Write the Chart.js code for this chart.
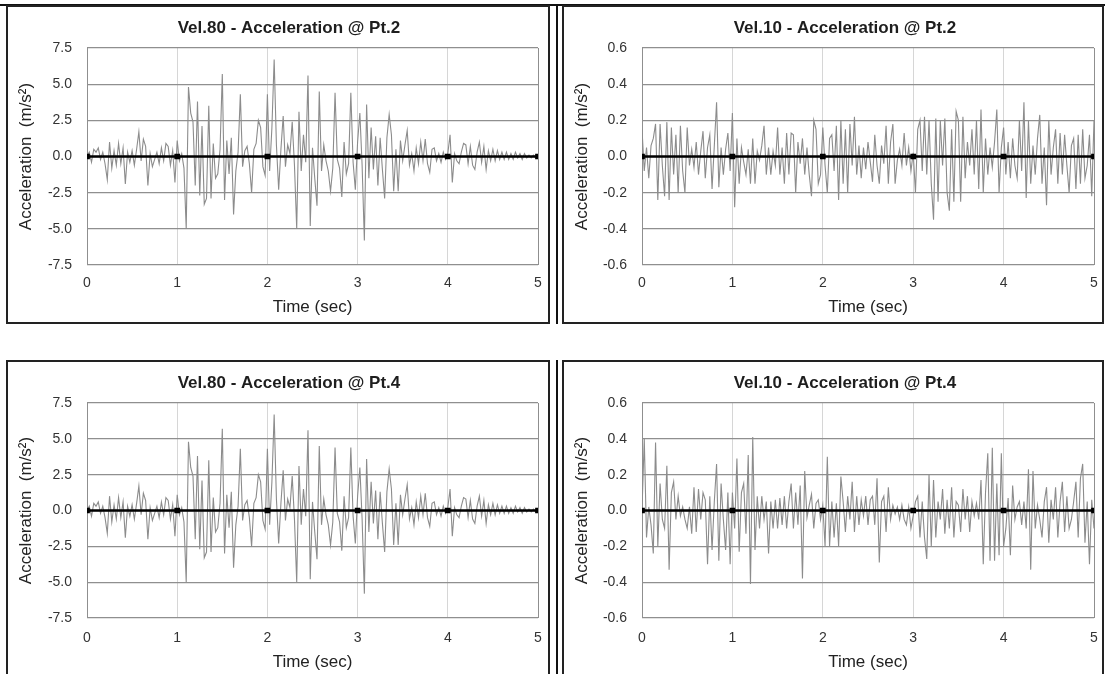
<!DOCTYPE html>
<html>
<head>
<meta charset="utf-8">
<title>Acceleration records</title>
<script src="https://cdn.jsdelivr.net/npm/chart.js@4.4.0/dist/chart.umd.min.js"></script>
<style>
  html, body { margin: 0; padding: 0; background: #fff; overflow: hidden; }
  body { width: 1105px; height: 674px; position: relative; }
  .rule { position: absolute; background: #111; }
  .panel { position: absolute; box-sizing: border-box; border: 2px solid #222; background: #fff; overflow: hidden; }
  .panel canvas { position: absolute; left: 0; top: 0; }
</style>
</head>
<body>

<div class="rule" style="left:0;top:4px;width:1105px;height:2px"></div>
<div class="rule" style="left:556px;top:4px;width:2px;height:320px"></div>
<div class="rule" style="left:556px;top:360px;width:2px;height:320px"></div>

<div class="panel" style="left:6px;top:5px;width:544px;height:319px"><canvas id="v80p2" width="540" height="315"></canvas></div>
<div class="panel" style="left:562px;top:5px;width:542px;height:319px"><canvas id="v10p2" width="538" height="315"></canvas></div>
<div class="panel" style="left:6px;top:360px;width:544px;height:330px"><canvas id="v80p4" width="540" height="315"></canvas></div>
<div class="panel" style="left:562px;top:360px;width:542px;height:330px"><canvas id="v10p4" width="538" height="315"></canvas></div>

<script>
// ─── Data ────────────────────────────────────────────────────
const sampleStep = 0.025;          // sec between samples, 0..5 s
const markerTimes = [0, 1, 2, 3, 4, 5];
const timeTicks = [0, 1, 2, 3, 4, 5];
const ticksV80 = [-7.5, -5.0, -2.5, 0.0, 2.5, 5.0, 7.5];
const ticksV10 = [-0.6, -0.4, -0.2, 0.0, 0.2, 0.4, 0.6];

// m/s², Vel.80 at Pt.2
const accelV80Pt2 = [
   0.0,  0.3, -0.4,  0.5,  0.3,  0.6, -0.2,  0.3, -0.5, -1.6,
   1.0, -0.8,  0.4, -0.6,  0.9, -0.5,  0.6, -1.9,  0.3, -0.4,
   0.4, -0.6,  0.5,  1.7, -0.3,  1.2,  0.7, -2.0,  0.2, -0.7,
  -0.2,  0.3, -0.5,  0.6, -0.3,  0.9,  0.7, -0.6,  0.4, -1.8,
   1.1, -0.3,  0.2, -0.8, -5.0,  4.8,  3.0,  2.4, -2.0,  3.8,
  -2.7,  2.1, -3.3, -2.9,  3.5, -2.9,  0.9, -1.5, -1.2,  0.5,
   5.7, -3.0,  1.1, -1.2,  1.3, -4.0, -1.0,  0.3,  4.3, -0.7,
   0.4,  0.7, -0.5, -2.5,  0.5,  0.9,  2.5,  2.0, -0.7, -1.3,
   4.3, -1.0,  2.0,  6.7,  0.8, -2.3,  0.5,  2.8, -0.7,  0.8,
   0.2,  2.4, -0.6, -5.0,  3.1, -1.0,  1.5, -0.4,  5.6, -4.8,
   0.6, -1.5, -3.4,  4.5, -1.0,  0.8, -0.3, -1.0, -2.4, -0.8,
   4.4, -0.2, -0.8, -2.8,  1.0, -1.2, -0.5,  4.4, -0.4, -2.3,
   1.0,  3.0, -0.6, -5.8,  3.6, -1.5,  2.0, -0.9,  1.4, -2.0,
   1.3, -0.9, -2.9,  1.3,  2.9,  1.5, -2.4,  0.5, -2.4,  1.1,
  -0.3,  0.8,  1.8, -0.6,  0.2, -1.0,  0.6, -0.5,  1.0, -0.3,
   1.2, -0.5, -1.1,  0.5,  0.6, -0.3,  0.2, -0.4,  0.3, -0.2,
   0.2,  1.5, -1.8,  0.2, -0.3, -0.5,  0.3,  0.9,  0.8, -0.5,
   0.7, -0.6, -0.9,  0.3,  1.0, -0.4,  0.7, -0.9,  0.4, -0.3,
   0.5, -0.3,  0.4, -0.2,  0.3, -0.2,  0.3, -0.2,  0.2, -0.2,
   0.3, -0.1,  0.2, -0.2,  0.2, -0.1,  0.1, -0.1,  0.1, -0.1,
   0.0
];

// m/s², Vel.80 at Pt.4 (same record as Pt.2)
const accelV80Pt4 = accelV80Pt2.slice();

// m/s², Vel.10 at Pt.2
const accelV10Pt2 = [
   0.15, -0.08,  0.05, -0.12,  0.06,  0.10,  0.18, -0.24,  0.18, -0.05,
  -0.22,  0.19, -0.24,  0.16, -0.10,  0.12, -0.20,  0.17, -0.08, -0.20,
   0.16, -0.05,  0.04, -0.06,  0.08, -0.10,  0.03,  0.14, -0.12,  0.05,
   0.12, -0.18,  0.06,  0.30, -0.17,  0.05, -0.10,  0.04,  0.13, -0.08,
   0.24, -0.28,  0.10, -0.15,  0.05, -0.03, -0.10,  0.04, -0.15,  0.10,
  -0.15,  0.03, -0.02,  0.06,  0.17, -0.10,  0.05, -0.10,  0.03, -0.05,
   0.16, -0.10,  0.05, -0.15,  0.13, -0.10,  0.13,  0.12, -0.20,  0.08,
  -0.04,  0.10, -0.10,  0.05, -0.10, -0.22,  0.20,  0.15, -0.15, -0.10,
   0.16, -0.05, -0.20,  0.10,  0.12, -0.08,  0.17, -0.24,  0.20, -0.15,
   0.15, -0.20,  0.18, -0.05,  0.22, -0.10,  0.06, -0.12,  0.05, -0.07,
   0.08, -0.03, -0.14,  0.12, -0.05, -0.15,  0.06, -0.04,  0.17, -0.15,
   0.08,  0.18, -0.15, -0.02,  0.04, -0.05,  0.13, -0.05,  0.05, -0.08,
   0.02, -0.20,  0.15,  0.20, -0.08,  0.22, -0.10,  0.20, -0.15, -0.35,
   0.21, -0.25,  0.20, -0.05,  0.21, -0.20, -0.30,  0.15, -0.25,  0.25,
   0.20, -0.25,  0.22, -0.12,  0.08, -0.05,  0.15, -0.10,  0.20, -0.18,
   0.26, -0.20,  0.10, -0.10,  0.05, -0.06,  0.08,  0.26, -0.20,  0.05,
   0.16, -0.10,  0.08, -0.12,  0.10, -0.05, -0.12,  0.20, -0.08,  0.30,
  -0.23,  0.20, -0.15,  0.06, -0.10,  0.10,  0.23, -0.15,  0.05, -0.27,
   0.20, -0.10,  0.05,  0.15, -0.15,  0.13, -0.10,  0.12, -0.05, -0.20,
   0.06,  0.10, -0.18,  0.12, -0.15,  0.15, -0.12, -0.05,  0.12, -0.22,
   0.20
];

// m/s², Vel.10 at Pt.4
const accelV10Pt4 = [
   0.00,  0.40, -0.15,  0.02, -0.08, -0.24,  0.38, -0.20,  0.15, -0.05,
  -0.10,  0.25, -0.33,  0.10,  0.16, -0.05,  0.08, -0.03,  0.02, -0.05,
  -0.10,  0.02, -0.13,  0.13, -0.12,  0.12, -0.05,  0.10,  0.06, -0.30,
   0.08, -0.22,  0.05,  0.26, -0.28,  0.15, -0.05, -0.22,  0.10, -0.30,
   0.10, -0.10,  0.29, -0.23,  0.10,  0.15, -0.13,  0.31, -0.41,  0.41,
  -0.22,  0.08, -0.10,  0.08, -0.05,  0.05, -0.24,  0.05, -0.10,  0.06,
  -0.10,  0.07, -0.08,  0.08, -0.10,  0.05,  0.15, -0.10,  0.10, -0.08,
   0.14, -0.38,  0.22, -0.04,  0.03,  0.09, -0.10,  0.04,  0.06, -0.05,
   0.03, -0.20,  0.30, -0.20,  0.05, -0.15,  0.04, -0.20,  0.19,  0.05,
  -0.12,  0.08, -0.05,  0.16, -0.12,  0.08, -0.08,  0.06, -0.03,  0.08,
  -0.08,  0.06,  0.08, -0.08,  0.18, -0.29,  0.05,  0.08, -0.12,  0.13,
  -0.05,  0.03, -0.02,  0.02, -0.05,  0.03, -0.05, -0.08,  0.02, -0.10,
  -0.03,  0.05,  0.08, -0.15,  0.05, -0.15, -0.27,  0.20, -0.20,  0.17,
  -0.15,  0.05, -0.05,  0.12, -0.13,  0.06, -0.10,  0.13, -0.15,  0.05,
   0.03, -0.12,  0.12, -0.05,  0.08, -0.12,  0.05, -0.03,  0.04, -0.05,
   0.17, -0.30,  0.10,  0.32, -0.28,  0.35, -0.28,  0.15, -0.25,  0.32,
  -0.20, -0.10,  0.07, -0.25,  0.14, -0.05,  0.02,  0.05, -0.08,  0.05,
  -0.10,  0.23, -0.33,  0.22, -0.10,  0.03, -0.05, -0.15,  0.05,  0.13,
  -0.18,  0.06, -0.05,  0.13, -0.15,  0.05,  0.16, -0.12,  0.08, -0.10,
  -0.05,  0.05,  0.16, -0.15,  0.18,  0.26, -0.18,  0.05, -0.30,  0.06,
  -0.10
];

// ─── Styles ──────────────────────────────────────────────────
const FONT = '"Liberation Sans", Arial, Helvetica, sans-serif';
const TRACE_COLOR = '#8c8c8c';
const HGRID = '#8f8f8f';
const VGRID = '#d6d6d6';

// Chart title drawn at a fixed centre, a bit right of the canvas middle
const panelTitle = {
  id: 'panelTitle',
  afterDraw(chart, args, opts) {
    const ctx = chart.ctx;
    ctx.save();
    ctx.font = `bold 17px ${FONT}`;
    ctx.fillStyle = '#1e1e1e';
    ctx.textAlign = 'center';
    ctx.textBaseline = 'middle';
    ctx.fillText(opts.text, opts.x, opts.y);
    ctx.restore();
  }
};

function toPoints(values) {
  return values.map((v, i) => ({ x: i * sampleStep, y: v }));
}

function renderAccelChart(canvasId, title, values, yTicks, layout) {
  const canvas = document.getElementById(canvasId);
  const yMin = yTicks[0];
  const yMax = yTicks[yTicks.length - 1];

  new Chart(canvas, {
    type: 'line',
    data: {
      datasets: [
        {
          // zero reference line with markers each second
          data: markerTimes.map(t => ({ x: t, y: 0 })),
          borderColor: '#000',
          backgroundColor: '#000',
          borderWidth: 2.6,
          pointStyle: 'rect',
          pointRadius: 2.2,
          pointHoverRadius: 2.2,
        },
        {
          data: toPoints(values),
          borderColor: TRACE_COLOR,
          borderWidth: 1.1,
          pointRadius: 0,
          tension: 0,
        }
      ]
    },
    options: {
      responsive: false,
      animation: false,
      devicePixelRatio: 1,
      layout: { padding: { left: 0, right: layout.padRight, top: 41, bottom: 0 } },
      plugins: {
        legend: { display: false },
        tooltip: { enabled: false },
        title: { display: false },
        panelTitle: { text: title, x: 281, y: 21 },
      },
      scales: {
        x: {
          type: 'linear',
          min: 0,
          max: 5,
          afterBuildTicks: s => { s.ticks = timeTicks.map(v => ({ value: v })); },
          afterFit: s => {
            s.height = layout.xHeight;
            // edge labels are narrow; keep the plot edge where the layout puts it
            s.paddingLeft = 0;
            s.paddingRight = 0;
          },
          ticks: {
            padding: layout.xTickPad,
            color: '#333',
            font: { family: FONT, size: 14 },
            maxRotation: 0,
            callback: v => String(v),
          },
          grid: {
            drawTicks: false,
            lineWidth: 1,
            color: c => (c.tick && (c.tick.value === 0 || c.tick.value === 5)) ? HGRID : VGRID,
          },
          border: { display: false },
          title: {
            display: true,
            text: 'Time (sec)',
            color: '#222',
            font: { family: FONT, size: 17 },
            padding: { top: 0, bottom: 4.8 },
          },
        },
        y: {
          min: yMin,
          max: yMax,
          afterBuildTicks: s => { s.ticks = yTicks.map(v => ({ value: v })); },
          afterFit: s => { s.width = layout.plotLeft; },
          ticks: {
            padding: 15,
            color: '#333',
            font: { family: FONT, size: 14 },
            callback: v => (Math.abs(v) < 1e-9 ? 0 : v).toFixed(1),
          },
          grid: { drawTicks: false, color: HGRID, lineWidth: 1.3 },
          border: { display: false },
          title: {
            display: true,
            text: 'Acceleration  (m/s²)',
            color: '#222',
            font: { family: FONT, size: 17 },
            padding: { top: 7.8, bottom: 0 },
          },
        }
      }
    },
    plugins: [panelTitle]
  });
}

renderAccelChart('v80p2', 'Vel.80 - Acceleration @ Pt.2', accelV80Pt2, ticksV80,
  { plotLeft: 79, padRight: 10, xHeight: 57, xTickPad: 9.6 });
renderAccelChart('v10p2', 'Vel.10 - Acceleration @ Pt.2', accelV10Pt2, ticksV10,
  { plotLeft: 78, padRight: 8, xHeight: 57, xTickPad: 9.6 });
renderAccelChart('v80p4', 'Vel.80 - Acceleration @ Pt.4', accelV80Pt4, ticksV80,
  { plotLeft: 79, padRight: 10, xHeight: 59, xTickPad: 11.6 });
renderAccelChart('v10p4', 'Vel.10 - Acceleration @ Pt.4', accelV10Pt4, ticksV10,
  { plotLeft: 78, padRight: 8, xHeight: 59, xTickPad: 11.6 });
</script>
</body>
</html>
